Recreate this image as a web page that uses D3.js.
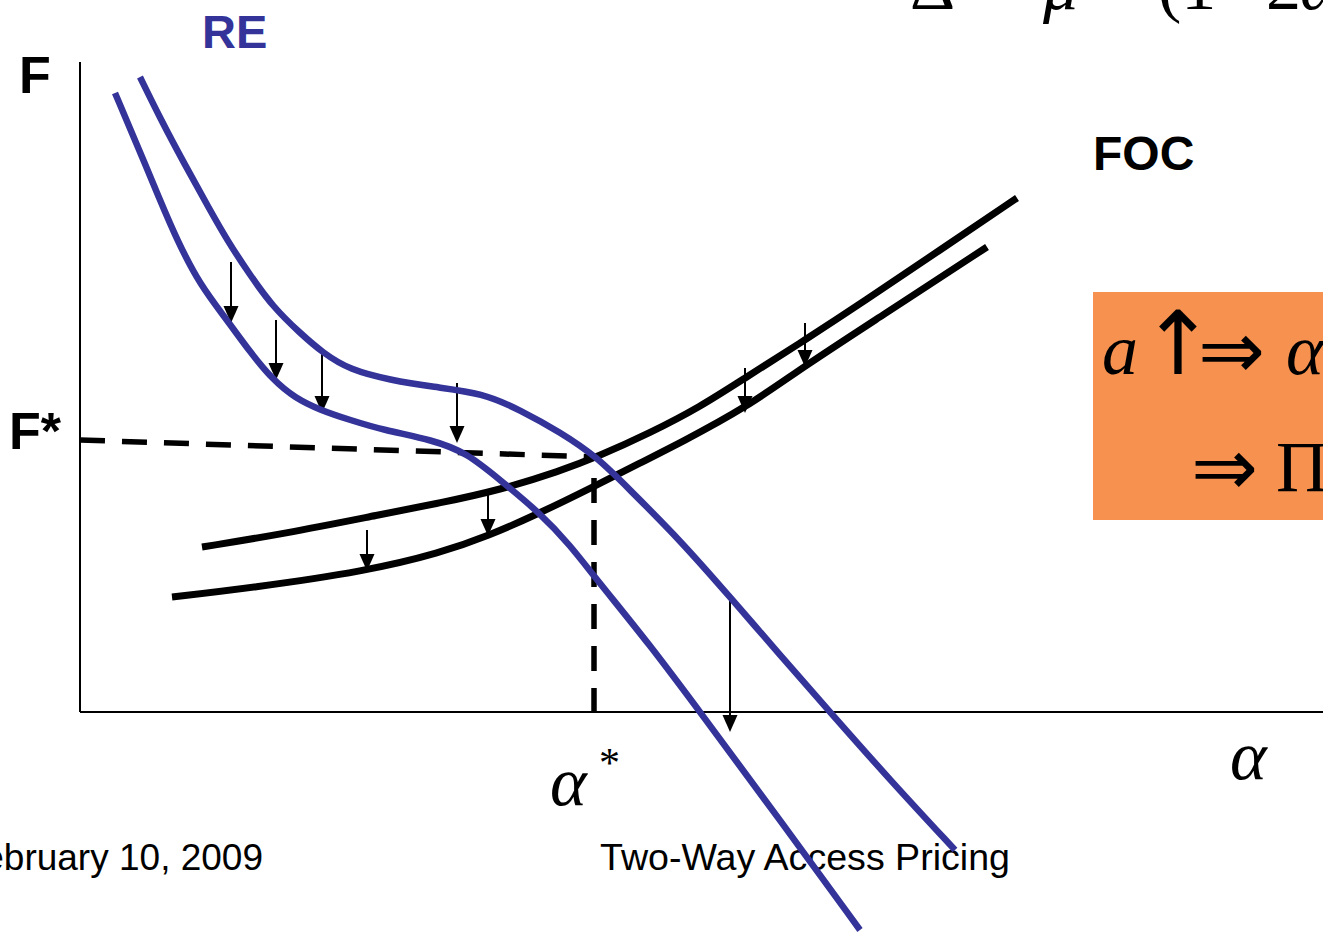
<!DOCTYPE html>
<html><head><meta charset="utf-8">
<script src="https://cdn.jsdelivr.net/npm/d3@7"></script>
<style>body{margin:0;background:#fff;overflow:hidden}svg{display:block}</style>
</head><body>
<svg id="chart" width="1323" height="932"></svg>
<script>
// ---- data (alpha, F) in abstract chart units ----
const reOld = [[0.60,6.35],[0.80,5.94],[1.05,5.47],[1.30,5.02],[1.47,4.72],[1.70,4.37],[1.93,4.05],[2.20,3.79],[2.43,3.59],[2.70,3.42],[3.10,3.32],[3.53,3.25],[4.03,3.19],[4.40,3.02],[4.80,2.80],[5.17,2.55],[5.47,2.25],[6.00,1.72],[6.50,1.15],[7.00,0.57],[7.50,0.00],[8.10,-0.68],[8.75,-1.38]];
const reNew = [[0.35,6.19],[0.55,5.72],[0.80,5.12],[0.97,4.72],[1.20,4.27],[1.47,3.92],[1.70,3.60],[1.93,3.32],[2.15,3.14],[2.40,3.02],[2.70,2.92],[3.03,2.82],[3.53,2.72],[3.87,2.59],[4.20,2.32],[4.60,1.99],[4.90,1.67],[5.17,1.32],[5.70,0.67],[6.20,0.00],[7.00,-1.08],[7.80,-2.18]];
const focOld = [[1.22,1.65],[2.03,1.78],[3.03,1.98],[3.60,2.09],[4.20,2.22],[4.80,2.41],[5.17,2.55],[5.70,2.79],[6.20,3.05],[6.65,3.34],[7.25,3.72],[7.83,4.10],[8.60,4.62],[9.37,5.14]];
const focNew = [[0.92,1.15],[1.70,1.24],[2.87,1.41],[3.60,1.59],[4.08,1.76],[4.60,1.99],[5.13,2.25],[5.60,2.49],[6.00,2.69],[6.67,3.05],[7.23,3.45],[8.00,3.95],[9.07,4.65]];
const fStarLine = [[0.00,2.72],[5.17,2.55]];
const alphaStarLine = [[5.14,2.55],[5.14,0.00]];
// shift arrows: [alpha, F from, F to]
const shiftArrows = [[1.51,4.50,3.89],[1.96,3.92,3.32],[2.42,3.59,2.99],[3.77,3.29,2.69],[4.08,2.19,1.76],[2.87,1.82,1.41],[6.65,3.44,2.99],[7.25,3.89,3.45],[6.50,1.17,-0.20]];
const axisLabels = {y:"F", yStar:"F*", x:"α", xStar:"α"};
const curveLabels = ["RE","FOC"];
const footer = ["February 10, 2009","Two-Way Access Pricing"];

const svg = d3.select("#chart");
const x = d3.scaleLinear().domain([0,12.43]).range([80,1323]);
const y = d3.scaleLinear().domain([0,6.5]).range([712,62]);
const line = d3.line().x(d=>x(d[0])).y(d=>y(d[1])).curve(d3.curveBasis);
const straight = d3.line().x(d=>x(d[0])).y(d=>y(d[1]));

const BLUE = "#333399";

// top equation (cut off)
const eq = svg.append("g").attr("font-family","'Liberation Serif','Times New Roman',serif").attr("font-size",70).attr("fill","#000");
eq.append("text").attr("x",910).attr("y",9).text("Δ");
eq.append("text").attr("x",985).attr("y",9).text("=");
eq.append("text").attr("x",1043).attr("y",9).attr("font-style","italic").text("μ");
eq.append("text").attr("x",1158).attr("y",9).text("(1");
eq.append("text").attr("x",1215).attr("y",9).text("−");
eq.append("text").attr("x",1266).attr("y",9).text("2");
eq.append("text").attr("x",1300).attr("y",9).attr("font-style","italic").text("α");

// orange box
svg.append("rect").attr("x",1093).attr("y",292).attr("width",260).attr("height",228).attr("fill","#F6914F");
const bx = svg.append("g").attr("font-family","'Liberation Serif','Times New Roman',serif").attr("font-size",72).attr("fill","#000");
bx.append("text").attr("x",1102).attr("y",374).attr("font-style","italic").text("a");
bx.append("text").attr("x",1178).attr("y",374).attr("text-anchor","middle").attr("font-family","'DejaVu Sans',sans-serif").attr("font-size",88).text("↑");
bx.append("text").attr("x",1198).attr("y",378).attr("font-family","'DejaVu Sans',sans-serif").attr("font-size",80).text("⇒");
bx.append("text").attr("x",1286).attr("y",374).attr("font-style","italic").text("α");
bx.append("text").attr("x",1191).attr("y",495).attr("font-family","'DejaVu Sans',sans-serif").attr("font-size",80).text("⇒");
bx.append("text").attr("x",1276).attr("y",491).text("Π");

// axes
svg.append("line").attr("x1",x(0)).attr("x2",x(0)).attr("y1",y(6.5)).attr("y2",y(0)).attr("stroke","#000").attr("stroke-width",2);
svg.append("line").attr("x1",x(0)).attr("x2",x(12.43)).attr("y1",y(0)).attr("y2",y(0)).attr("stroke","#000").attr("stroke-width",2);

// dashed guide lines
svg.append("path").attr("d",straight(fStarLine)).attr("fill","none").attr("stroke","#000").attr("stroke-width",5.5).attr("stroke-dasharray","25,17");
svg.append("path").attr("d",straight(alphaStarLine)).attr("fill","none").attr("stroke","#000").attr("stroke-width",5.5).attr("stroke-dasharray","25,17").attr("stroke-dashoffset",21);

// curves
[focOld, focNew].forEach(d=>svg.append("path").attr("d",line(d)).attr("fill","none").attr("stroke","#000").attr("stroke-width",7));

// shift arrows
const ag = svg.append("g");
shiftArrows.forEach(([a,f0,f1])=>{
  const px = x(a), y0 = y(f0), y1 = y(f1), h = 17, w = 7.5;
  ag.append("line").attr("x1",px).attr("x2",px).attr("y1",y0).attr("y2",y1-h+2).attr("stroke","#000").attr("stroke-width",2);
  ag.append("path").attr("d",`M${px-w},${y1-h}L${px+w},${y1-h}L${px},${y1}Z`).attr("fill","#000");
});

// labels
const sans = "'Liberation Sans',Arial,sans-serif";
svg.append("text").attr("x",202).attr("y",48).attr("font-family",sans).attr("font-weight","bold").attr("font-size",47).attr("fill",BLUE).text(curveLabels[0]);
svg.append("text").attr("x",1093).attr("y",170).attr("font-family",sans).attr("font-weight","bold").attr("font-size",48).attr("fill","#000").text(curveLabels[1]);
svg.append("text").attr("x",19).attr("y",93).attr("font-family",sans).attr("font-weight","bold").attr("font-size",52).text(axisLabels.y);
svg.append("text").attr("x",9).attr("y",449).attr("font-family",sans).attr("font-weight","bold").attr("font-size",52).text(axisLabels.yStar);

const serif = "'Liberation Serif','Times New Roman',serif";
svg.append("text").attr("x",x(5.14)-44).attr("y",805).attr("font-family",serif).attr("font-style","italic").attr("font-size",70).text(axisLabels.xStar);
svg.append("text").attr("x",x(5.14)+5).attr("y",777).attr("font-family",serif).attr("font-size",42).text("*");
svg.append("text").attr("x",1230).attr("y",779).attr("font-family",serif).attr("font-style","italic").attr("font-size",70).text(axisLabels.x);

// footer
svg.append("text").attr("x",263).attr("y",870).attr("text-anchor","end").attr("font-family",sans).attr("font-size",37).text(footer[0]);
svg.append("text").attr("x",600).attr("y",870).attr("font-family",sans).attr("font-size",37.6).text(footer[1]);

// RE curves on top (they cross the footer)
[reOld, reNew].forEach(d=>svg.append("path").attr("d",line(d)).attr("fill","none").attr("stroke",BLUE).attr("stroke-width",6.5));
</script>
</body></html>
